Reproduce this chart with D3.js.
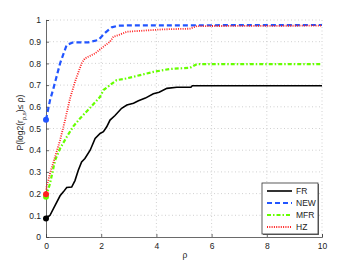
<!DOCTYPE html>
<html>
<head>
<meta charset="utf-8">
<script src="https://cdn.jsdelivr.net/npm/d3@7"></script>
<style>
  body { margin: 0; background: #fff; }
  svg { font-family: "Liberation Sans", Arial, sans-serif; }
</style>
</head>
<body>
<div id="chart"></div>
<script>
// performance profile data
const seriesNames = ['FR', 'NEW', 'MFR', 'HZ'];
const xTicks = [0, 2, 4, 6, 8, 10];
const yTicks = [0, 0.1, 0.2, 0.3, 0.4, 0.5, 0.6, 0.7, 0.8, 0.9, 1];

const frX = [0, 0.145, 0.33, 0.51, 0.63, 0.75, 0.93, 1.05, 1.17, 1.29, 1.41, 1.6, 1.78, 1.96, 2.08, 2.2, 2.32, 2.5, 2.74, 2.93, 3.17, 3.35, 3.6, 3.89, 4.1, 4.38, 4.74, 5.25, 5.3, 10];
const frY = [0.085, 0.1, 0.146, 0.19, 0.208, 0.228, 0.23, 0.26, 0.308, 0.346, 0.362, 0.4, 0.454, 0.477, 0.485, 0.508, 0.539, 0.56, 0.593, 0.608, 0.616, 0.628, 0.64, 0.66, 0.667, 0.685, 0.69, 0.69, 0.697, 0.697];

const newX = [0, 0.145, 0.27, 0.51, 0.75, 0.99, 1.53, 1.9, 2.14, 2.38, 2.62, 3.0, 10];
const newY = [0.54, 0.63, 0.685, 0.8, 0.885, 0.897, 0.897, 0.908, 0.941, 0.966, 0.974, 0.975, 0.977];

const mfrX = [0, 0.145, 0.33, 0.51, 0.75, 0.99, 1.23, 1.6, 1.96, 2.08, 2.32, 2.56, 2.93, 3.41, 3.89, 4.47, 5.22, 5.47, 10];
const mfrY = [0.185, 0.246, 0.354, 0.408, 0.461, 0.51, 0.546, 0.596, 0.646, 0.677, 0.7, 0.723, 0.731, 0.746, 0.761, 0.774, 0.78, 0.797, 0.797];

const hzX = [0, 0.02, 0.145, 0.33, 0.51, 0.69, 0.87, 1.05, 1.29, 1.41, 1.78, 2.08, 2.32, 2.44, 2.62, 2.93, 3.41, 4.25, 5.22, 5.47, 10];
const hzY = [0.197, 0.23, 0.293, 0.37, 0.446, 0.538, 0.638, 0.715, 0.8, 0.823, 0.846, 0.877, 0.9, 0.923, 0.93, 0.946, 0.95, 0.957, 0.96, 0.972, 0.974];

const width = 354, height = 266;
const margin = { top: 20, right: 32, bottom: 29, left: 46 };

const svg = d3.select('#chart').append('svg')
  .attr('width', width)
  .attr('height', height);

const contentWidth = width - margin.left - margin.right;
const contentHeight = height - margin.top - margin.bottom;

const xScale = d3.scaleLinear().domain([0, 10]).range([0, contentWidth]);
const yScale = d3.scaleLinear().domain([0, 1]).range([contentHeight, 0]);

const g = svg.append('g')
  .attr('transform', 'translate(' + margin.left + ',' + margin.top + ')');

// grid
g.selectAll('.vgrid')
  .data(xTicks.slice(1))
  .enter().append('line')
  .attr('x1', d => xScale(d)).attr('x2', d => xScale(d))
  .attr('y1', 0).attr('y2', contentHeight)
  .attr('stroke', '#c4c4c4').attr('stroke-width', 0.8)
  .attr('stroke-dasharray', '1,2.5');

g.selectAll('.hgrid')
  .data(yTicks.slice(1))
  .enter().append('line')
  .attr('x1', 0).attr('x2', contentWidth)
  .attr('y1', d => yScale(d)).attr('y2', d => yScale(d))
  .attr('stroke', '#c4c4c4').attr('stroke-width', 0.8)
  .attr('stroke-dasharray', '1,2.5');

// axes
const xAxis = g.append('g')
  .attr('transform', 'translate(0,' + contentHeight + ')')
  .call(d3.axisBottom(xScale).tickValues(xTicks).tickSize(-3).tickPadding(6).tickFormat(d3.format('d')));

const yAxis = g.append('g')
  .call(d3.axisLeft(yScale).tickValues(yTicks).tickSize(-3).tickPadding(5).tickFormat(d => d === 0 || d === 1 ? d : d3.format('.1f')(d)));

[xAxis, yAxis].forEach(a => {
  a.select('.domain').attr('stroke', '#444').attr('stroke-width', 0.8);
  a.selectAll('.tick line').attr('stroke', '#444').attr('stroke-width', 0.8);
  a.selectAll('.tick text').attr('fill', '#222').style('font-size', '8.5px').style('font-family', '"Liberation Sans", Arial, sans-serif');
});

// axis labels
svg.append('text')
  .attr('x', margin.left + xScale(5) + 1)
  .attr('y', 258)
  .attr('text-anchor', 'middle')
  .style('font-size', '8.5px')
  .attr('fill', '#222')
  .text('ρ');

const yl = svg.append('text')
  .attr('transform', 'translate(23,' + (margin.top + yScale(0.5) - 6) + ') rotate(-90)')
  .attr('text-anchor', 'middle')
  .style('font-size', '8.5px')
  .attr('fill', '#222');
yl.append('tspan').text('P(log2(r');
yl.append('tspan').attr('dy', 2.5).style('font-size', '6px').text('p,s');
yl.append('tspan').attr('dy', -2.5).text(')≤ ρ)');

// curves
const series = [
  { name: 'FR', xs: frX, ys: frY, color: '#000000', width: 1.6, dash: null },
  { name: 'NEW', xs: newX, ys: newY, color: '#2255ff', width: 2.2, dash: '5,3' },
  { name: 'MFR', xs: mfrX, ys: mfrY, color: '#66ff00', width: 2.2, dash: '4,2,1.5,2' },
  { name: 'HZ', xs: hzX, ys: hzY, color: '#ff2020', width: 1.8, dash: '1,1.3' }
];

const line = d3.line()
  .x(d => xScale(d[0]))
  .y(d => yScale(d[1]));

series.forEach(s => {
  const pts = s.xs.map((x, i) => [x, s.ys[i]]);
  g.append('path')
    .datum(pts)
    .attr('fill', 'none')
    .attr('stroke', s.color)
    .attr('stroke-width', s.width)
    .attr('stroke-dasharray', s.dash)
    .attr('d', line);
});

// start markers
series.forEach(s => {
  g.append('circle')
    .attr('cx', xScale(s.xs[0]))
    .attr('cy', yScale(s.ys[0]))
    .attr('r', 3)
    .attr('fill', s.color);
});

// legend
const legend = svg.append('g').attr('transform', 'translate(262,183)');
legend.append('rect')
  .attr('x', 1).attr('y', 1)
  .attr('width', 56).attr('height', 51)
  .attr('fill', '#666');
legend.append('rect')
  .attr('width', 56).attr('height', 51)
  .attr('fill', '#fff')
  .attr('stroke', '#333').attr('stroke-width', 0.8);

series.forEach((s, i) => {
  const y = 8 + i * 12;
  legend.append('line')
    .attr('x1', 5).attr('x2', 30)
    .attr('y1', y).attr('y2', y)
    .attr('stroke', s.color)
    .attr('stroke-width', s.width)
    .attr('stroke-dasharray', s.dash);
  legend.append('text')
    .attr('x', 34).attr('y', y + 3)
    .style('font-size', '8.5px')
    .attr('fill', '#222')
    .text(s.name);
});
</script>
</body>
</html>
